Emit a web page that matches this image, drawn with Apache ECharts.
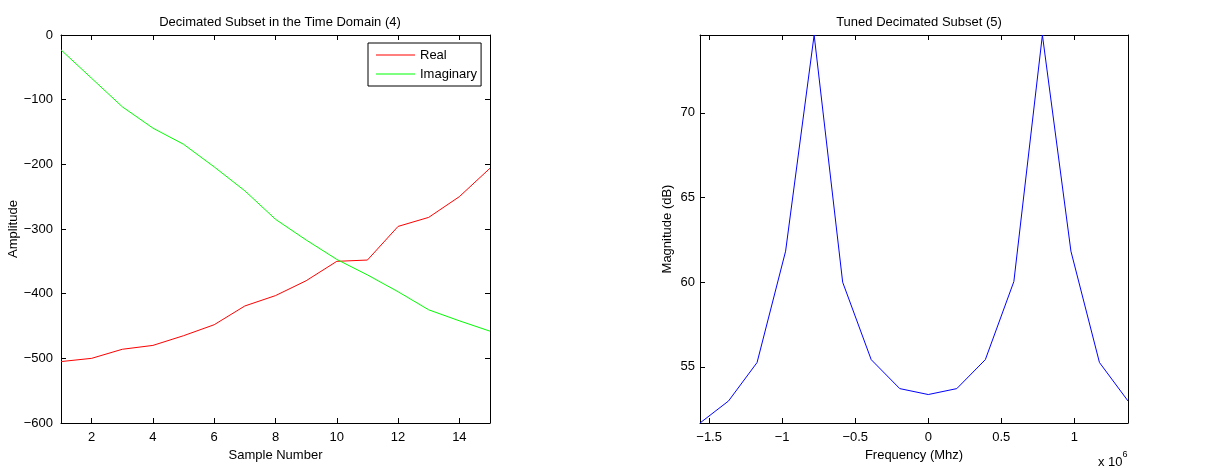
<!DOCTYPE html>
<html>
<head>
<meta charset="utf-8">
<script src="https://cdn.jsdelivr.net/npm/echarts@6/dist/echarts.min.js"></script>
<style>
  html, body { margin: 0; padding: 0; background: #fff; }
  #chart { width: 1210px; height: 468px; }
</style>
</head>
<body>
<div id="chart"></div>
<script>
// left panel: time domain
var sampleNum = [1, 2, 3, 4, 5, 6, 7, 8, 9, 10, 11, 12, 13, 14, 15];
var realVals = [-505, -500, -486, -480, -465, -448, -419, -403, -380, -350, -348, -296, -282, -250, -206];
var imagVals = [-23, -67, -111, -144, -169, -204, -241, -285, -317, -347, -371, -397, -425, -442, -458];
var sampleTicks = [2, 4, 6, 8, 10, 12, 14];

// right panel: spectrum (frequency in units of 1e6)
var freq = [-1.5625, -1.3672, -1.1719, -0.9766, -0.7813, -0.5859, -0.3906, -0.1953, 0,
            0.1953, 0.3906, 0.5859, 0.7813, 0.9766, 1.1719, 1.3672];
var magDb = [51.69, 52.99, 55.26, 61.83, 74.59, 60.0, 55.43, 53.72, 53.37,
             53.72, 55.43, 60.04, 74.59, 61.83, 55.26, 52.99];
var freqTicks = [-1.5, -1, -0.5, 0, 0.5, 1];
var magTicks = [55, 60, 65, 70];

var FONT = 'Liberation Sans';
var minus = function (v) { return String(v).replace('-', '\u2212'); };
var axLine = { show: true, onZero: false, lineStyle: { color: '#000', width: 1 } };
var lbl = { color: '#000', fontSize: 13, fontFamily: FONT };

function tick(vals) {
  var t = { inside: true, length: 5, lineStyle: { color: '#000' } };
  if (vals) t.customValues = vals;
  return t;
}

var chart = echarts.init(document.getElementById('chart'));
chart.setOption({
  animation: false,
  backgroundColor: '#fff',
  textStyle: { fontFamily: FONT },
  title: [
    { text: 'Decimated Subset in the Time Domain (4)', left: 275, top: 11, textAlign: 'center',
      textStyle: { fontSize: 13, fontWeight: 'normal', color: '#000', fontFamily: FONT } },
    { text: 'Tuned Decimated Subset (5)', left: 914, top: 11, textAlign: 'center',
      textStyle: { fontSize: 13, fontWeight: 'normal', color: '#000', fontFamily: FONT } }
  ],
  legend: {
    left: 368, top: 43, orient: 'vertical',
    data: ['Real', 'Imaginary'],
    icon: 'rect',
    itemWidth: 39, itemHeight: 1, itemGap: 5,
    padding: [5, 4, 5, 8],
    borderColor: '#000', borderWidth: 1, backgroundColor: '#fff',
    textStyle: { fontSize: 13, lineHeight: 14, color: '#000', fontFamily: FONT }
  },
  grid: [
    { left: 61, top: 35, width: 429, height: 388 },
    { left: 700, top: 35, width: 428, height: 388 }
  ],
  xAxis: [
    { type: 'value', gridIndex: 0, min: 1, max: 15, name: 'Sample Number',
      nameLocation: 'middle', nameGap: 25, nameTextStyle: lbl,
      axisLine: axLine, splitLine: { show: false }, axisTick: tick(sampleTicks),
      axisLabel: Object.assign({ customValues: sampleTicks, margin: 8, formatter: minus }, lbl) },
    { type: 'value', gridIndex: 0, min: 1, max: 15, position: 'top',
      axisLine: axLine, splitLine: { show: false }, axisLabel: { show: false },
      axisTick: tick(sampleTicks) },
    { type: 'value', gridIndex: 1, min: -1.5625, max: 1.3672, name: 'Frequency (Mhz)',
      nameLocation: 'middle', nameGap: 25, nameTextStyle: lbl,
      axisLine: axLine, splitLine: { show: false }, axisTick: tick(freqTicks),
      axisLabel: Object.assign({ customValues: freqTicks, margin: 8, formatter: minus }, lbl) },
    { type: 'value', gridIndex: 1, min: -1.5625, max: 1.3672, position: 'top',
      axisLine: axLine, splitLine: { show: false }, axisLabel: { show: false },
      axisTick: tick(freqTicks) }
  ],
  yAxis: [
    { type: 'value', gridIndex: 0, min: -600, max: 0, interval: 100, name: 'Amplitude',
      nameLocation: 'middle', nameGap: 38, nameTextStyle: lbl,
      axisLine: axLine, splitLine: { show: false }, axisTick: tick(),
      axisLabel: Object.assign({ margin: 8, formatter: minus }, lbl) },
    { type: 'value', gridIndex: 0, min: -600, max: 0, interval: 100, position: 'right',
      axisLine: axLine, splitLine: { show: false }, axisLabel: { show: false },
      axisTick: tick() },
    { type: 'value', gridIndex: 1, min: 'dataMin', max: 'dataMax', name: 'Magnitude (dB)',
      nameLocation: 'middle', nameGap: 26, nameTextStyle: lbl,
      axisLine: axLine, splitLine: { show: false }, axisTick: tick(magTicks),
      axisLabel: Object.assign({ customValues: magTicks, margin: 5 }, lbl) },
    { type: 'value', gridIndex: 1, min: 'dataMin', max: 'dataMax', position: 'right',
      axisLine: axLine, splitLine: { show: false }, axisLabel: { show: false },
      axisTick: tick(magTicks) }
  ],
  series: [
    { name: 'Real', type: 'line', xAxisIndex: 0, yAxisIndex: 0, symbol: 'none',
      color: '#ff0000', lineStyle: { width: 1, color: '#ff0000' },
      data: sampleNum.map(function (x, i) { return [x, realVals[i]]; }) },
    { name: 'Imaginary', type: 'line', xAxisIndex: 0, yAxisIndex: 0, symbol: 'none',
      color: '#00ff00', lineStyle: { width: 1, color: '#00ff00' },
      data: sampleNum.map(function (x, i) { return [x, imagVals[i]]; }) },
    { name: 'Magnitude', type: 'line', xAxisIndex: 2, yAxisIndex: 2, symbol: 'none',
      color: '#0000ff', lineStyle: { width: 1, color: '#0000ff' },
      data: freq.map(function (x, i) { return [x, magDb[i]]; }) }
  ],
  graphic: [
    { type: 'text', left: 1098, top: 450,
      style: { text: '{a|x 10}{b|6}', fill: '#000',
        rich: { a: { fontSize: 13, fontFamily: FONT, padding: [6, 0, 0, 0] },
                b: { fontSize: 9, fontFamily: FONT, verticalAlign: 'top' } } } }
  ]
});
</script>
</body>
</html>
